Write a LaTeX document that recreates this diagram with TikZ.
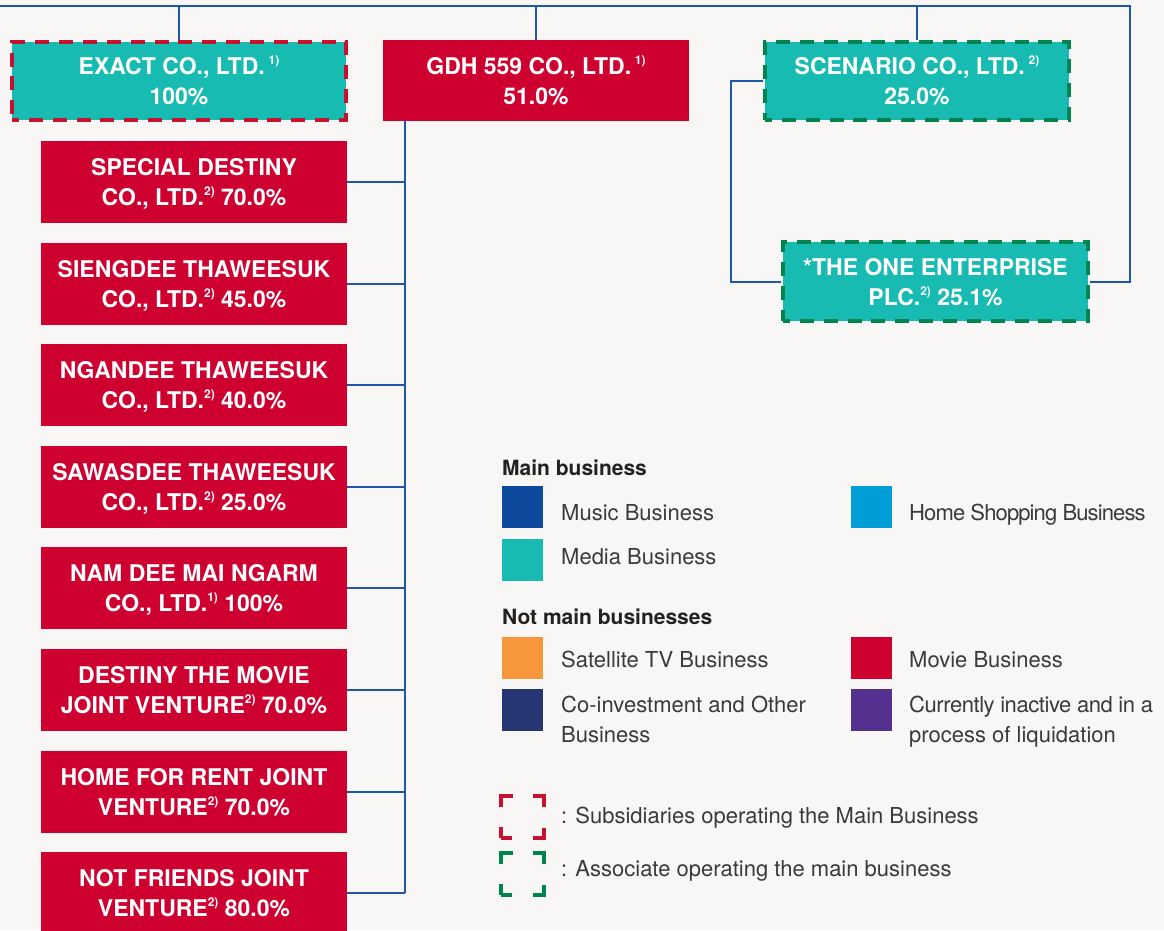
\documentclass[tikz,border=0pt]{standalone}
\usepackage{fontspec}
\setmainfont{TeX Gyre Heros}
\usetikzlibrary{positioning}
\definecolor{bgGray}{HTML}{F8F7F5}
\definecolor{movieRed}{HTML}{CE0030}
\definecolor{mediaTeal}{HTML}{18BBB2}
\definecolor{subsidRed}{HTML}{C41230}
\definecolor{assocGreen}{HTML}{00844F}
\definecolor{connBlue}{HTML}{1F57A8}
\definecolor{musicBlue}{HTML}{0D4A9E}
\definecolor{shopBlue}{HTML}{009DD6}
\definecolor{satOrange}{HTML}{F7963A}
\definecolor{coinvNavy}{HTML}{253672}
\definecolor{inactPurple}{HTML}{55318F}
\definecolor{legGray}{HTML}{3A3A3A}
\definecolor{legDark}{HTML}{222222}
\newcommand{\fnmark}[1]{\smash{\raisebox{10pt}{\fontsize{12}{12}\selectfont #1}}}

\begin{document}
\begin{tikzpicture}[x=1pt, y=-1pt,
  box/.style={minimum width=306pt, minimum height=82pt, inner sep=0pt, align=center,
    text depth=0pt, text=white, font=\fontsize{23}{30}\selectfont\bfseries},
  movie/.style={box, fill=movieRed},
  media/.style={box, fill=mediaTeal},
  subsid/.style={draw=subsidRed, line width=4pt, dash pattern=on 14pt off 9.86pt, dash phase=7pt},
  assoc/.style={draw=assocGreen, line width=4pt, dash pattern=on 14pt off 9.86pt, dash phase=7pt},
  keymark/.style={minimum width=43pt, minimum height=42pt, inner sep=0pt,
    dash pattern=on 22pt off 20.5pt, dash phase=11pt},
  conn/.style={draw=connBlue, line width=2pt},
  swatch/.style={minimum width=41pt, minimum height=42pt, inner sep=0pt, anchor=north west},
  legtext/.style={anchor=base west, inner sep=0pt, align=left, text=legGray,
    font=\fontsize{22}{30}\selectfont},
  leghead/.style={legtext, text=legDark, font=\fontsize{21}{26}\selectfont\bfseries}
]
\useasboundingbox[fill=bgGray] (0,0) rectangle (1164,930);

% top row
\node[media, subsid, minimum width=334pt, minimum height=78pt] (exact) at (179,81)
  {EXACT CO., LTD.\,\fnmark{1)}\\100\%};
\node[movie, minimum height=81pt] (gdh) at (536,80.5)
  {GDH 559 CO., LTD.\,\fnmark{1)}\\51.0\%};
\node[media, assoc, minimum width=304pt, minimum height=78pt] (scen) at (917,81)
  {SCENARIO CO., LTD.\,\fnmark{2)}\\25.0\%};
\node[media, assoc, minimum width=305pt, minimum height=79pt] (one) at (935.5,281.5)
  {*THE ONE ENTERPRISE\\PLC.\fnmark{2)} 25.1\%};

% GDH subsidiaries
\node[movie] (special) at (194,182) {SPECIAL DESTINY\\CO., LTD.\fnmark{2)} 70.0\%};
\node[movie, below=19.2pt of special] (siengdee) {SIENGDEE THAWEESUK\\CO., LTD.\fnmark{2)} 45.0\%};
\node[movie, below=19.2pt of siengdee] (ngandee) {NGANDEE THAWEESUK\\CO., LTD.\fnmark{2)} 40.0\%};
\node[movie, below=19.2pt of ngandee] (sawasdee) {SAWASDEE THAWEESUK\\CO., LTD.\fnmark{2)} 25.0\%};
\node[movie, below=19.2pt of sawasdee] (namdee) {NAM DEE MAI NGARM\\CO., LTD.\fnmark{1)} 100\%};
\node[movie, below=19.2pt of namdee] (destiny) {DESTINY THE MOVIE\\JOINT VENTURE\fnmark{2)} 70.0\%};
\node[movie, below=19.2pt of destiny] (homerent) {HOME FOR RENT JOINT\\VENTURE\fnmark{2)} 70.0\%};
\node[movie, below=19.2pt of homerent] (notfriends) {NOT FRIENDS JOINT\\VENTURE\fnmark{2)} 80.0\%};

% connectors
\coordinate (busL) at (0,6);
\coordinate (busR) at (1130,6);
\coordinate (spine) at (405,121);
\draw[conn] (busL) -- (busR) |- (one.east);
\draw[conn] (exact.north) -- (exact.north |- busL);
\draw[conn] (gdh.north) -- (gdh.north |- busL);
\draw[conn] (scen.north) -- (scen.north |- busL);
\draw[conn] (scen.west) -- ++(-32,0) |- (one.west);
\draw[conn] (spine) -- (spine |- notfriends.east);
\draw[conn] (special.east) -- (special.east -| spine);
\draw[conn] (siengdee.east) -- (siengdee.east -| spine);
\draw[conn] (ngandee.east) -- (ngandee.east -| spine);
\draw[conn] (sawasdee.east) -- (sawasdee.east -| spine);
\draw[conn] (namdee.east) -- (namdee.east -| spine);
\draw[conn] (destiny.east) -- (destiny.east -| spine);
\draw[conn] (homerent.east) -- (homerent.east -| spine);
\draw[conn] (notfriends.east) -- (notfriends.east -| spine);

% legend
\node[leghead] (mainhead) at (502,475) {Main business};
\node[swatch, fill=musicBlue] (music) at (502,486) {};
\node[legtext] (musiclbl) at (561,520) {Music Business};
\node[swatch, fill=shopBlue] (shop) at (851,486) {};
\node[legtext] (shoplbl) at (909,520) {\addfontfeatures{LetterSpace=-4}Home Shopping Business};
\node[swatch, fill=mediaTeal] (media) at (502,539) {};
\node[legtext] (medialbl) at (561,564) {Media Business};
\node[leghead] (nothead) at (502,624) {Not main businesses};
\node[swatch, fill=satOrange] (sat) at (502,637) {};
\node[legtext] (satlbl) at (561,667) {Satellite TV Business};
\node[swatch, fill=movieRed] (moviekey) at (851,637) {};
\node[legtext] (movielbl) at (909,667) {Movie Business};
\node[swatch, fill=coinvNavy] (coinv) at (502,689) {};
\node[legtext] (coinvlbl) at (561,742) {Co-investment and Other\\Business};
\node[swatch, fill=inactPurple] (inact) at (851,689) {};
\node[legtext] (inactlbl) at (909,742)
  {\addfontfeatures{LetterSpace=-2}Currently inactive and in a\\process of liquidation};

\node[subsid, keymark] (subkey) at (522.5,817) {};
\node[legtext] (sublbl) at (561,823) {: Subsidiaries operating the Main Business};
\node[assoc, keymark] (assockey) at (522.5,874) {};
\node[legtext] (assoclbl) at (561,876) {: Associate operating the main business};
\end{tikzpicture}
\end{document}
